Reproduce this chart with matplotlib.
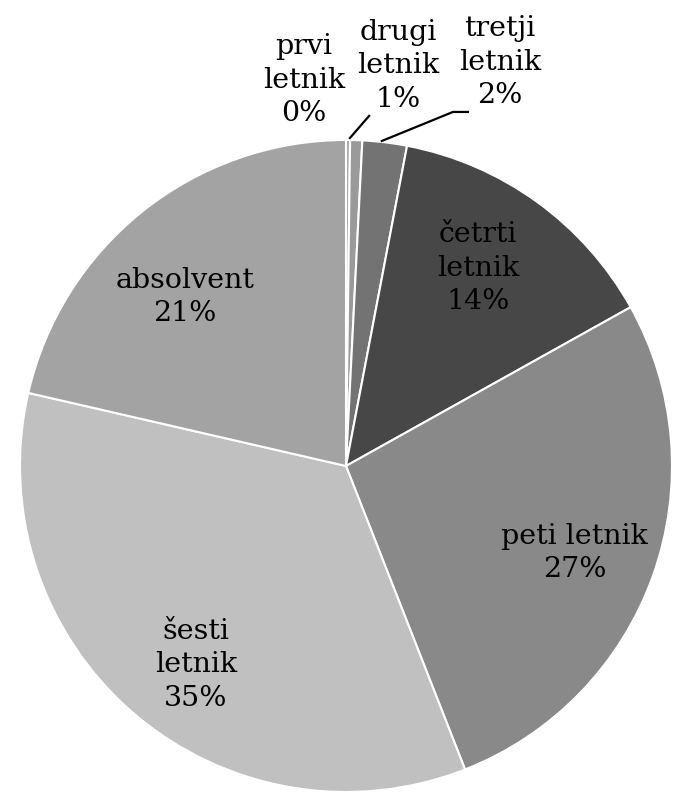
import matplotlib.pyplot as plt

# deleži po letnikih (odčitano s slike)
letniki = ['prvi\nletnik', 'drugi\nletnik', 'tretji\nletnik', 'četrti\nletnik',
           'peti letnik', 'šesti\nletnik', 'absolvent']
delezi = [0.2, 0.6, 2.2, 13.9, 27.15, 34.55, 21.4]
barve = ['#a8a8a8', '#9a9a9a', '#737373', '#474747', '#898989', '#c0c0c0', '#a3a3a3']

fig = plt.figure(figsize=(6.78, 8.01), dpi=100)
ax = fig.add_axes([0, 0, 1, 1])

wedges, _ = ax.pie(delezi, colors=barve, startangle=90, counterclock=False,
                   radius=1.0, wedgeprops=dict(edgecolor='white', linewidth=1.5))

ax.set_xlim(-1.0613, 1.0184)
ax.set_ylim(-1.0276, 1.4294)
ax.set_aspect('equal')
ax.axis('off')

pisava = dict(family='DejaVu Serif', fontsize=20.5, color='black',
              ha='center', va='center', linespacing=1.3)

# položaji oznak (notranje in zunanje)
polozaji = [(-0.129, 1.184), (0.160, 1.227), (0.472, 1.239),
            (0.405, 0.607), (0.702, -0.267), (-0.460, -0.610), (-0.494, 0.518)]
for ime, d, (x, y) in zip(letniki, delezi, polozaji):
    ax.text(x, y, f"{ime}\n{d:.0f}%", **pisava)

# povezovalne črte za majhna deleža
ax.plot([0.012, 0.071], [1.006, 1.074], color='black', lw=1.6)
ax.plot([0.110, 0.328, 0.374], [0.997, 1.086, 1.086], color='black', lw=1.6)

fig.savefig('out.png', dpi=100)
